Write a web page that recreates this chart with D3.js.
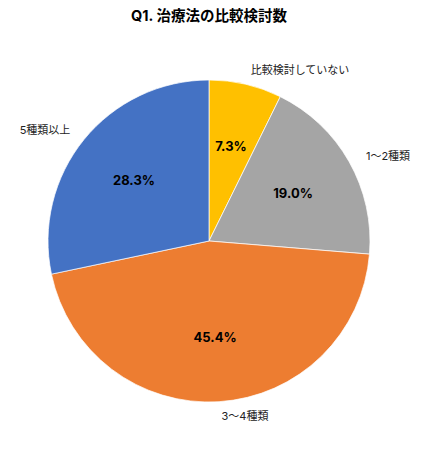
<!DOCTYPE html>
<html><head><meta charset="utf-8">
<script src="https://cdn.jsdelivr.net/npm/d3@7"></script>
<style>body{margin:0;background:#fff}svg{display:block}text{font-family:Inter,"Noto Sans CJK JP","Noto Sans",sans-serif}</style>
</head><body><svg id="c" width="421" height="450"></svg>
<script>
const categories = ["比較検討していない","1〜2種類","3〜4種類","5種類以上"];
const values = [7.3, 19.0, 45.4, 28.3];
const colors = ["#FFC000","#A5A5A5","#ED7D31","#4472C4"];
const labelPos = [[300,70],[388,156],[245,416],[45,130]];

const svg = d3.select("#c");
const cx = 209, cy = 241, r = 161;
svg.append("text").attr("x",209).attr("y",21).attr("text-anchor","middle")
  .attr("font-size",14.5).attr("font-weight","bold").text("Q1. 治療法の比較検討数");
const pie = d3.pie().sort(null).value(d=>d)(values);
const arc = d3.arc().innerRadius(0).outerRadius(r);
const g = svg.append("g").attr("transform",`translate(${cx},${cy})`);
g.selectAll("path").data(pie).join("path").attr("d",arc)
  .attr("fill",(d,i)=>colors[i]).attr("stroke","#fff").attr("stroke-width",0.7);
const lab = d3.arc().innerRadius(r*0.6).outerRadius(r*0.6);
g.selectAll("text.p").data(pie).join("text").attr("class","p")
  .attr("transform",d=>`translate(${lab.centroid(d)})`)
  .attr("text-anchor","middle").attr("dy","0.35em")
  .attr("font-size",13).attr("font-weight","bold").attr("fill","#000")
  .text(d=>d.data.toFixed(1)+"%");
svg.selectAll("text.c").data(categories).join("text").attr("class","c")
  .attr("x",(d,i)=>labelPos[i][0]).attr("y",(d,i)=>labelPos[i][1])
  .attr("text-anchor","middle").attr("dy","0.35em").attr("font-size",11).attr("fill","#222")
  .text(d=>d);
</script></body></html>
